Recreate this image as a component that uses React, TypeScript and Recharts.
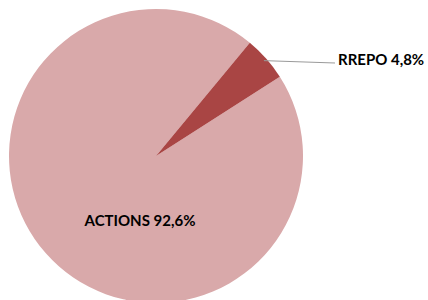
import { Cell, Pie, PieChart } from 'recharts';

const categories = ['ACTIONS', 'RREPO'];
const shares = [92.6, 4.8];
const sliceColors = ['#d9a9aa', '#a94544'];

const data = categories.map((name, i) => ({ name, value: shares[i] }));

const RAD = Math.PI / 180;

function fmt(value: number) {
  return `${value.toFixed(1).replace('.', ',')}%`;
}

function renderLabel(props: any) {
  const { cx, cy, midAngle, outerRadius, index, name, value } = props;
  const text = `${name} ${fmt(Number(value))}`;

  if (index === 0) {
    // inside label, Excel-style placement below centre
    return (
      <text
        x={cx - 16}
        y={cy + 64}
        textAnchor="middle"
        dominantBaseline="central"
        fontFamily="Lato, sans-serif"
        fontWeight={700}
        fontSize={15}
        fill="#000"
      >
        {text}
      </text>
    );
  }

  const sx = cx + (outerRadius - 3) * Math.cos(-midAngle * RAD);
  const sy = cy + (outerRadius - 3) * Math.sin(-midAngle * RAD);
  const ex = cx + 179;
  const ey = cy - 93;

  return (
    <g>
      <path d={`M${sx},${sy}L${ex},${ey}`} stroke="#9a9a9a" strokeWidth={1} fill="none" />
      <text
        x={ex + 3}
        y={cy - 97}
        textAnchor="start"
        dominantBaseline="central"
        fontFamily="Lato, sans-serif"
        fontWeight={700}
        fontSize={15}
        fill="#000"
      >
        {text}
      </text>
    </g>
  );
}

export default function App() {
  return (
    <div style={{ position: 'absolute', left: 0, top: 0, width: 428, height: 300, background: '#fff' }}>
      <PieChart width={428} height={300} margin={{ top: 0, right: 0, bottom: 0, left: 0 }}>
        <Pie
          data={data}
          dataKey="value"
          nameKey="name"
          cx={156}
          cy={156}
          outerRadius={147}
          startAngle={32.6}
          endAngle={-327.4}
          stroke="none"
          label={renderLabel}
          labelLine={false}
          isAnimationActive={false}
        >
          {data.map((entry, i) => (
            <Cell key={entry.name} fill={sliceColors[i]} />
          ))}
        </Pie>
      </PieChart>
    </div>
  );
}
